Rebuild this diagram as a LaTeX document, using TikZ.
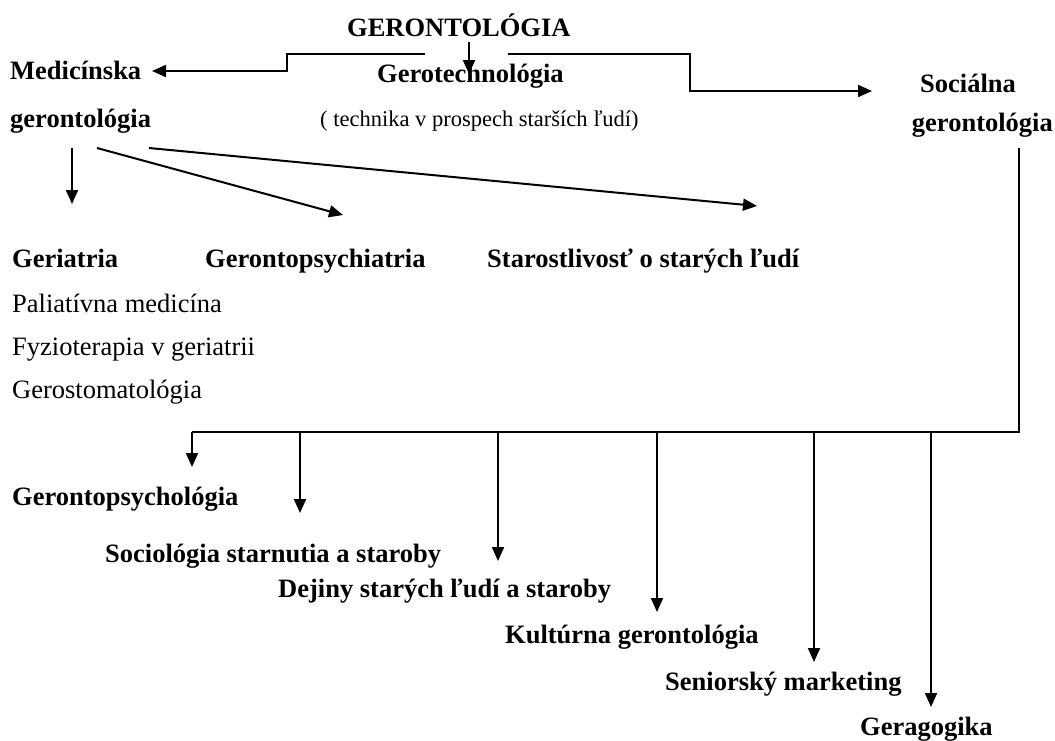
\documentclass[tikz,border=0pt]{standalone}
\usepackage{fontspec}
\setmainfont{Liberation Serif}
\usetikzlibrary{arrows.meta}
\begin{document}
\begin{tikzpicture}[x=1pt,y=-1pt,
  bl/.style={anchor=base west, inner sep=0pt, font=\bfseries\fontsize{26.5}{30}\selectfont},
  rl/.style={anchor=base west, inner sep=0pt, font=\fontsize{26.5}{30}\selectfont},
  sl/.style={anchor=base west, inner sep=0pt, font=\fontsize{22.5}{26}\selectfont},
  ln/.style={line width=2pt},
  arr/.style={line width=2pt, -{Triangle[length=14pt,width=12pt]}}]
\useasboundingbox[fill=white] (0,0) rectangle (1055,740);

% texts
\node[bl] (ger) at (347,36) {GERONTOLÓGIA};
\node[bl] (med1) at (10,79) {Medicínska};
\node[bl] (med2) at (10,127) {gerontológia};
\node[bl] (tech) at (377,82) {Gerotechnológia};
\node[sl] (techn) at (320,126) {( technika v prospech starších ľudí)};
\node[bl] (soc1) at (920,92) {Sociálna};
\node[bl,anchor=base east] (soc2) at (1053,131) {gerontológia};

\node[bl] (geri) at (12,267) {Geriatria};
\node[bl] (gpsy) at (205,267) {Gerontopsychiatria};
\node[bl] (star) at (487,267) {Starostlivosť o starých ľudí};
\node[rl] (pal) at (12,312) {Paliatívna medicína};
\node[rl] (fyz) at (12,355) {Fyzioterapia v geriatrii};
\node[rl] (sto) at (12,398) {Gerostomatológia};

\node[bl] (gpsl) at (12,505) {Gerontopsychológia};
\node[bl] (soci) at (105,562) {Sociológia starnutia a staroby};
\node[bl] (dej) at (278,597) {Dejiny starých ľudí a staroby};
\node[bl] (kul) at (505,643) {Kultúrna gerontológia};
\node[bl] (sen) at (665,690) {Seniorský marketing};
\node[bl] (gera) at (860,735) {Geragogika};

% top connectors
\coordinate (tA) at (469,42);
\coordinate (tB) at (469,74);
\coordinate (l0) at (425,54);
\coordinate (l1) at (287,54);
\coordinate (l2) at (287,71);
\coordinate (l3) at (152,71);
\coordinate (r0) at (508,54);
\coordinate (r1) at (690,54);
\coordinate (r2) at (690,91);
\coordinate (r3) at (872,91);
\draw[arr] (tA) -- (tB);
\draw[arr] (l0) -- (l1) -- (l2) -- (l3);
\draw[arr] (r0) -- (r1) -- (r2) -- (r3);

% medical branches
\coordinate (m0) at (72,148);
\coordinate (m0e) at (72,204);
\coordinate (m1) at (97,148);
\coordinate (m1e) at (343,215);
\coordinate (m2) at (149,148);
\coordinate (m2e) at (757,206);
\draw[arr] (m0) -- (m0e);
\draw[arr] (m1) -- (m1e);
\draw[arr] (m2) -- (m2e);

% social branches
\coordinate (s0) at (1019,148);
\coordinate (s1) at (1019,432);
\coordinate (h0) at (192,432);
\coordinate (h1) at (300,432);
\coordinate (h2) at (498,432);
\coordinate (h3) at (657,432);
\coordinate (h4) at (814,432);
\coordinate (h5) at (931,432);
\draw[ln] (s0) -- (s1) -- (h0);
\draw[arr] (h0) -- (192,467);
\draw[arr] (h1) -- (300,513);
\draw[arr] (h2) -- (498,561);
\draw[arr] (h3) -- (657,612);
\draw[arr] (h4) -- (814,662);
\draw[arr] (h5) -- (931,707);
\end{tikzpicture}
\end{document}
